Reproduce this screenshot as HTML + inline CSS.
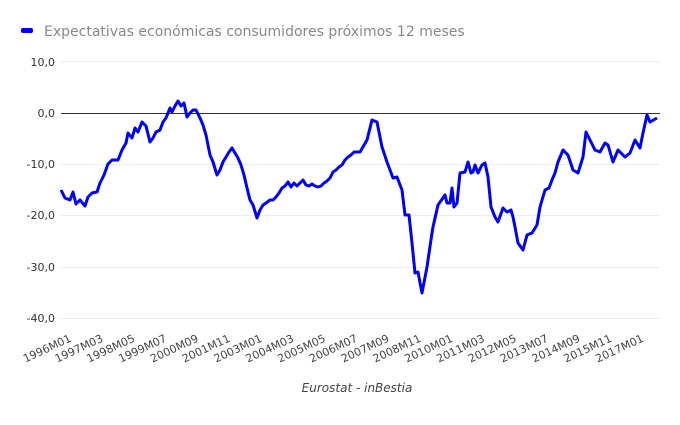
<!DOCTYPE html>
<html><head><meta charset="utf-8"><style>
body{margin:0;background:#fff}
svg{font-family:"DejaVu Sans","Liberation Sans",sans-serif}
</style></head><body>
<svg id="s" width="680" height="420" viewBox="0 0 680 420">
<rect x="21" y="28" width="12" height="5" rx="2" fill="#0000ff"/>
<text x="44" y="36" font-size="14" fill="#888">Expectativas económicas consumidores próximos 12 meses</text>
<g stroke="#ececec" stroke-width="1">
<line x1="61" x2="660" y1="61.5" y2="61.5"/>
<line x1="61" x2="660" y1="164.5" y2="164.5"/>
<line x1="61" x2="660" y1="215.5" y2="215.5"/>
<line x1="61" x2="660" y1="267.5" y2="267.5"/>
<line x1="61" x2="660" y1="318.5" y2="318.5"/>
</g>
<line x1="61" x2="660" y1="113.5" y2="113.5" stroke="#333" stroke-width="1"/>
<g font-size="11" fill="#333" text-anchor="end">
<text x="55" y="66">10,0</text>
<text x="55" y="117">0,0</text>
<text x="55" y="168">-10,0</text>
<text x="55" y="219">-20,0</text>
<text x="55" y="271">-30,0</text>
<text x="55" y="322">-40,0</text>
</g>
<g id="xl" font-size="11" fill="#444" text-anchor="end"></g>
<text x="357" y="392" font-size="12" font-style="italic" fill="#444" text-anchor="middle">Eurostat - inBestia</text>
<polyline id="p" fill="none" stroke="#0000ff" stroke-width="3" stroke-linejoin="round"/>
</svg>
<script>
var d=[61,190,65,198,70,200,73,192,76,204,80,200,85,206,88,197,92,193,97,192,100,183,104,175,108,164,112,160,118,160,122,150,126,143,128,133,132,138,135,128,138,132,142,122,146,126,150,142,153,138,156,132,160,130,163,122,166,118,170,108,172,112,175,106,178,101,181,106,184,103,187,117,190,113,193,110,196,110,200,118,203,125,206,135,210,155,213,162,217,175,220,170,223,162,226,157,229,152,232,148,235,153,238,158,241,165,244,175,247,188,250,200,253,205,257,218,260,210,263,205,266,203,270,200,273,200,276,197,279,193,282,188,285,186,288,182,291,187,294,183,297,186,300,183,303,180,306,185,309,186,312,184,315,186,318,187,321,186,324,183,327,181,330,178,333,172,336,170,339,167,342,165,345,160,348,157,351,155,354,152,
360,152,367,140,372,120,377,122,382,147,387,162,393,178,397,177,402,190,405,215,409,215,412,243,415,273,418,272,422,293,427,267,432,233,433,227,438,205,445,195,447,203,450,203,452,188,454,207,457,203,460,173,465,172,468,162,471,173,473,172,475,165,478,173,482,165,485,163,488,177,491,207,495,217,498,222,503,208,507,212,511,210,513,217,515,227,518,243,523,250,527,235,532,233,537,225,540,207,545,190,549,188,552,180,555,173,558,162,563,150,568,155,573,170,578,173,583,157,586,132,590,140,595,150,600,152,605,143,608,145,613,162,618,150,625,157,630,153,635,140,640,148,643,133,647,115,650,122,657,118];
var pts=[];for(var i=0;i<d.length;i+=2){pts.push(d[i]+","+d[i+1]);}
document.getElementById('p').setAttribute('points',pts.join(' '));
var L=["1996M01","1997M03","1998M05","1999M07","2000M09","2001M11","2003M01","2004M03","2005M05","2006M07","2007M09","2008M11","2010M01","2011M03","2012M05","2013M07","2014M09","2015M11","2017M01"];
var g=document.getElementById('xl'),h="";
L.forEach(function(t,k){var x=72+k*31.8,y=341;h+='<text x="'+x+'" y="'+y+'" transform="rotate(-25 '+x+' '+y+')">'+t+'</text>';});
g.innerHTML=h;
</script>
</body></html>
